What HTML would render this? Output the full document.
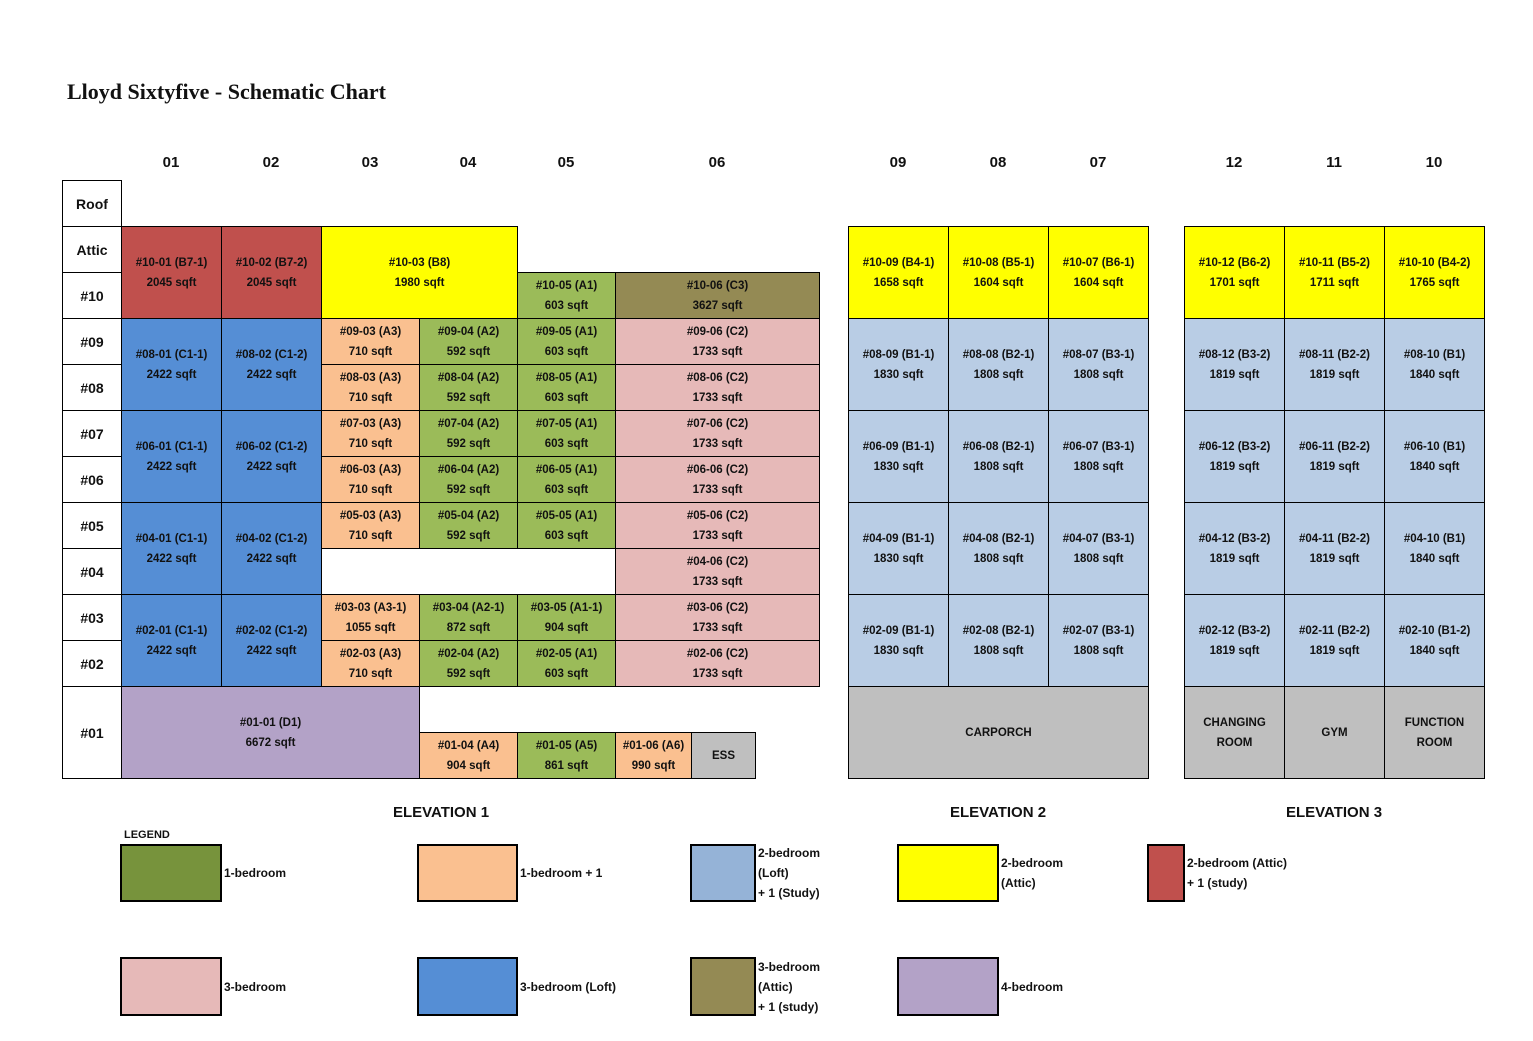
<!DOCTYPE html>
<html><head><meta charset="utf-8"><style>
body{margin:0;width:1533px;height:1041px;background:#fff;position:relative;overflow:hidden;font-family:"Liberation Sans",sans-serif;font-weight:bold;color:#111}
.c{position:absolute;box-sizing:border-box;border:1px solid #000;display:flex;align-items:center;justify-content:center;text-align:center;font-size:11.5px;line-height:20px;padding-top:1px}
.l{position:absolute;font-size:15px;transform:translateX(-50%)}
.t{position:absolute;font-size:12px;line-height:20px}
.lg{position:absolute;box-sizing:border-box;border:2px solid #000}
.R{background:#C0504D}.B{background:#558ED5}.Y{background:#FFFF00}.P{background:#FAC090}.G{background:#9BBB59}.K{background:#E6B9B8}.O{background:#948A54}.LB{background:#B9CDE5}.V{background:#B3A2C7}.S{background:#BFBFBF}
</style></head><body>
<div style="position:absolute;left:67px;top:79px;font-family:'Liberation Serif',serif;font-size:22px">Lloyd Sixtyfive - Schematic Chart</div>
<div class="l" style="left:171px;top:154px">01</div><div class="l" style="left:271px;top:154px">02</div><div class="l" style="left:370px;top:154px">03</div><div class="l" style="left:468px;top:154px">04</div><div class="l" style="left:566px;top:154px">05</div><div class="l" style="left:717px;top:154px">06</div>
<div class="l" style="left:898px;top:154px">09</div><div class="l" style="left:998px;top:154px">08</div><div class="l" style="left:1098px;top:154px">07</div>
<div class="l" style="left:1234px;top:154px">12</div><div class="l" style="left:1334px;top:154px">11</div><div class="l" style="left:1434px;top:154px">10</div>

<div class="c" style="left:62px;top:180px;width:60px;height:47px;font-size:14px">Roof</div>
<div class="c" style="left:62px;top:226px;width:60px;height:47px;font-size:14px">Attic</div>
<div class="c" style="left:62px;top:272px;width:60px;height:47px;font-size:14px">#10</div>
<div class="c" style="left:62px;top:318px;width:60px;height:47px;font-size:14px">#09</div>
<div class="c" style="left:62px;top:364px;width:60px;height:47px;font-size:14px">#08</div>
<div class="c" style="left:62px;top:410px;width:60px;height:47px;font-size:14px">#07</div>
<div class="c" style="left:62px;top:456px;width:60px;height:47px;font-size:14px">#06</div>
<div class="c" style="left:62px;top:502px;width:60px;height:47px;font-size:14px">#05</div>
<div class="c" style="left:62px;top:548px;width:60px;height:47px;font-size:14px">#04</div>
<div class="c" style="left:62px;top:594px;width:60px;height:47px;font-size:14px">#03</div>
<div class="c" style="left:62px;top:640px;width:60px;height:47px;font-size:14px">#02</div>
<div class="c" style="left:62px;top:686px;width:60px;height:93px;font-size:14px">#01</div>

<div class="c R" style="left:121px;top:226px;width:101px;height:93px">#10-01 (B7-1)<br>2045 sqft</div>
<div class="c R" style="left:221px;top:226px;width:101px;height:93px">#10-02 (B7-2)<br>2045 sqft</div>
<div class="c Y" style="left:321px;top:226px;width:197px;height:93px">#10-03 (B8)<br>1980 sqft</div>
<div class="c G" style="left:517px;top:272px;width:99px;height:47px">#10-05 (A1)<br>603 sqft</div>
<div class="c O" style="left:615px;top:272px;width:205px;height:47px">#10-06 (C3)<br>3627 sqft</div>

<div class="c B" style="left:121px;top:318px;width:101px;height:93px">#08-01 (C1-1)<br>2422 sqft</div>
<div class="c B" style="left:221px;top:318px;width:101px;height:93px">#08-02 (C1-2)<br>2422 sqft</div>
<div class="c B" style="left:121px;top:410px;width:101px;height:93px">#06-01 (C1-1)<br>2422 sqft</div>
<div class="c B" style="left:221px;top:410px;width:101px;height:93px">#06-02 (C1-2)<br>2422 sqft</div>
<div class="c B" style="left:121px;top:502px;width:101px;height:93px">#04-01 (C1-1)<br>2422 sqft</div>
<div class="c B" style="left:221px;top:502px;width:101px;height:93px">#04-02 (C1-2)<br>2422 sqft</div>
<div class="c B" style="left:121px;top:594px;width:101px;height:93px">#02-01 (C1-1)<br>2422 sqft</div>
<div class="c B" style="left:221px;top:594px;width:101px;height:93px">#02-02 (C1-2)<br>2422 sqft</div>

<div class="c P" style="left:321px;top:318px;width:99px;height:47px">#09-03 (A3)<br>710 sqft</div>
<div class="c G" style="left:419px;top:318px;width:99px;height:47px">#09-04 (A2)<br>592 sqft</div>
<div class="c G" style="left:517px;top:318px;width:99px;height:47px">#09-05 (A1)<br>603 sqft</div>
<div class="c K" style="left:615px;top:318px;width:205px;height:47px">#09-06 (C2)<br>1733 sqft</div>
<div class="c P" style="left:321px;top:364px;width:99px;height:47px">#08-03 (A3)<br>710 sqft</div>
<div class="c G" style="left:419px;top:364px;width:99px;height:47px">#08-04 (A2)<br>592 sqft</div>
<div class="c G" style="left:517px;top:364px;width:99px;height:47px">#08-05 (A1)<br>603 sqft</div>
<div class="c K" style="left:615px;top:364px;width:205px;height:47px">#08-06 (C2)<br>1733 sqft</div>
<div class="c P" style="left:321px;top:410px;width:99px;height:47px">#07-03 (A3)<br>710 sqft</div>
<div class="c G" style="left:419px;top:410px;width:99px;height:47px">#07-04 (A2)<br>592 sqft</div>
<div class="c G" style="left:517px;top:410px;width:99px;height:47px">#07-05 (A1)<br>603 sqft</div>
<div class="c K" style="left:615px;top:410px;width:205px;height:47px">#07-06 (C2)<br>1733 sqft</div>
<div class="c P" style="left:321px;top:456px;width:99px;height:47px">#06-03 (A3)<br>710 sqft</div>
<div class="c G" style="left:419px;top:456px;width:99px;height:47px">#06-04 (A2)<br>592 sqft</div>
<div class="c G" style="left:517px;top:456px;width:99px;height:47px">#06-05 (A1)<br>603 sqft</div>
<div class="c K" style="left:615px;top:456px;width:205px;height:47px">#06-06 (C2)<br>1733 sqft</div>
<div class="c P" style="left:321px;top:502px;width:99px;height:47px">#05-03 (A3)<br>710 sqft</div>
<div class="c G" style="left:419px;top:502px;width:99px;height:47px">#05-04 (A2)<br>592 sqft</div>
<div class="c G" style="left:517px;top:502px;width:99px;height:47px">#05-05 (A1)<br>603 sqft</div>
<div class="c K" style="left:615px;top:502px;width:205px;height:47px">#05-06 (C2)<br>1733 sqft</div>
<div class="c K" style="left:615px;top:548px;width:205px;height:47px">#04-06 (C2)<br>1733 sqft</div>
<div class="c P" style="left:321px;top:594px;width:99px;height:47px">#03-03 (A3-1)<br>1055 sqft</div>
<div class="c G" style="left:419px;top:594px;width:99px;height:47px">#03-04 (A2-1)<br>872 sqft</div>
<div class="c G" style="left:517px;top:594px;width:99px;height:47px">#03-05 (A1-1)<br>904 sqft</div>
<div class="c K" style="left:615px;top:594px;width:205px;height:47px">#03-06 (C2)<br>1733 sqft</div>
<div class="c P" style="left:321px;top:640px;width:99px;height:47px">#02-03 (A3)<br>710 sqft</div>
<div class="c G" style="left:419px;top:640px;width:99px;height:47px">#02-04 (A2)<br>592 sqft</div>
<div class="c G" style="left:517px;top:640px;width:99px;height:47px">#02-05 (A1)<br>603 sqft</div>
<div class="c K" style="left:615px;top:640px;width:205px;height:47px">#02-06 (C2)<br>1733 sqft</div>

<div class="c V" style="left:121px;top:686px;width:299px;height:93px">#01-01 (D1)<br>6672 sqft</div>
<div class="c P" style="left:419px;top:732px;width:99px;height:47px">#01-04 (A4)<br>904 sqft</div>
<div class="c G" style="left:517px;top:732px;width:99px;height:47px">#01-05 (A5)<br>861 sqft</div>
<div class="c P" style="left:615px;top:732px;width:77px;height:47px">#01-06 (A6)<br>990 sqft</div>
<div class="c S" style="left:691px;top:732px;width:65px;height:47px">ESS</div>

<div class="c Y" style="left:848px;top:226px;width:101px;height:93px">#10-09 (B4-1)<br>1658 sqft</div>
<div class="c Y" style="left:948px;top:226px;width:101px;height:93px">#10-08 (B5-1)<br>1604 sqft</div>
<div class="c Y" style="left:1048px;top:226px;width:101px;height:93px">#10-07 (B6-1)<br>1604 sqft</div>
<div class="c LB" style="left:848px;top:318px;width:101px;height:93px">#08-09 (B1-1)<br>1830 sqft</div>
<div class="c LB" style="left:948px;top:318px;width:101px;height:93px">#08-08 (B2-1)<br>1808 sqft</div>
<div class="c LB" style="left:1048px;top:318px;width:101px;height:93px">#08-07 (B3-1)<br>1808 sqft</div>
<div class="c LB" style="left:848px;top:410px;width:101px;height:93px">#06-09 (B1-1)<br>1830 sqft</div>
<div class="c LB" style="left:948px;top:410px;width:101px;height:93px">#06-08 (B2-1)<br>1808 sqft</div>
<div class="c LB" style="left:1048px;top:410px;width:101px;height:93px">#06-07 (B3-1)<br>1808 sqft</div>
<div class="c LB" style="left:848px;top:502px;width:101px;height:93px">#04-09 (B1-1)<br>1830 sqft</div>
<div class="c LB" style="left:948px;top:502px;width:101px;height:93px">#04-08 (B2-1)<br>1808 sqft</div>
<div class="c LB" style="left:1048px;top:502px;width:101px;height:93px">#04-07 (B3-1)<br>1808 sqft</div>
<div class="c LB" style="left:848px;top:594px;width:101px;height:93px">#02-09 (B1-1)<br>1830 sqft</div>
<div class="c LB" style="left:948px;top:594px;width:101px;height:93px">#02-08 (B2-1)<br>1808 sqft</div>
<div class="c LB" style="left:1048px;top:594px;width:101px;height:93px">#02-07 (B3-1)<br>1808 sqft</div>
<div class="c S" style="left:848px;top:686px;width:301px;height:93px">CARPORCH</div>

<div class="c Y" style="left:1184px;top:226px;width:101px;height:93px">#10-12 (B6-2)<br>1701 sqft</div>
<div class="c Y" style="left:1284px;top:226px;width:101px;height:93px">#10-11 (B5-2)<br>1711 sqft</div>
<div class="c Y" style="left:1384px;top:226px;width:101px;height:93px">#10-10 (B4-2)<br>1765 sqft</div>
<div class="c LB" style="left:1184px;top:318px;width:101px;height:93px">#08-12 (B3-2)<br>1819 sqft</div>
<div class="c LB" style="left:1284px;top:318px;width:101px;height:93px">#08-11 (B2-2)<br>1819 sqft</div>
<div class="c LB" style="left:1384px;top:318px;width:101px;height:93px">#08-10 (B1)<br>1840 sqft</div>
<div class="c LB" style="left:1184px;top:410px;width:101px;height:93px">#06-12 (B3-2)<br>1819 sqft</div>
<div class="c LB" style="left:1284px;top:410px;width:101px;height:93px">#06-11 (B2-2)<br>1819 sqft</div>
<div class="c LB" style="left:1384px;top:410px;width:101px;height:93px">#06-10 (B1)<br>1840 sqft</div>
<div class="c LB" style="left:1184px;top:502px;width:101px;height:93px">#04-12 (B3-2)<br>1819 sqft</div>
<div class="c LB" style="left:1284px;top:502px;width:101px;height:93px">#04-11 (B2-2)<br>1819 sqft</div>
<div class="c LB" style="left:1384px;top:502px;width:101px;height:93px">#04-10 (B1)<br>1840 sqft</div>
<div class="c LB" style="left:1184px;top:594px;width:101px;height:93px">#02-12 (B3-2)<br>1819 sqft</div>
<div class="c LB" style="left:1284px;top:594px;width:101px;height:93px">#02-11 (B2-2)<br>1819 sqft</div>
<div class="c LB" style="left:1384px;top:594px;width:101px;height:93px">#02-10 (B1-2)<br>1840 sqft</div>
<div class="c S" style="left:1184px;top:686px;width:101px;height:93px">CHANGING<br>ROOM</div>
<div class="c S" style="left:1284px;top:686px;width:101px;height:93px">GYM</div>
<div class="c S" style="left:1384px;top:686px;width:101px;height:93px">FUNCTION<br>ROOM</div>

<div class="l" style="left:441px;top:804px">ELEVATION 1</div>
<div class="l" style="left:998px;top:804px">ELEVATION 2</div>
<div class="l" style="left:1334px;top:804px">ELEVATION 3</div>

<div class="t" style="left:124px;top:825px;font-size:11px">LEGEND</div>
<div class="lg" style="left:120px;top:844px;width:102px;height:58px;background:#77933C"></div>
<div class="t" style="left:224px;top:863px">1-bedroom</div>
<div class="lg" style="left:417px;top:844px;width:101px;height:58px;background:#FAC090"></div>
<div class="t" style="left:520px;top:863px">1-bedroom + 1</div>
<div class="lg" style="left:690px;top:844px;width:66px;height:58px;background:#95B3D7"></div>
<div class="t" style="left:758px;top:843px">2-bedroom<br>(Loft)<br>+ 1 (Study)</div>
<div class="lg" style="left:897px;top:844px;width:102px;height:58px;background:#FFFF00"></div>
<div class="t" style="left:1001px;top:853px">2-bedroom<br>(Attic)</div>
<div class="lg" style="left:1147px;top:844px;width:38px;height:58px;background:#C0504D"></div>
<div class="t" style="left:1187px;top:853px">2-bedroom (Attic)<br>+ 1 (study)</div>

<div class="lg" style="left:120px;top:957px;width:102px;height:59px;background:#E6B9B8"></div>
<div class="t" style="left:224px;top:977px">3-bedroom</div>
<div class="lg" style="left:417px;top:957px;width:101px;height:59px;background:#558ED5"></div>
<div class="t" style="left:520px;top:977px">3-bedroom (Loft)</div>
<div class="lg" style="left:690px;top:957px;width:66px;height:59px;background:#948A54"></div>
<div class="t" style="left:758px;top:957px">3-bedroom<br>(Attic)<br>+ 1 (study)</div>
<div class="lg" style="left:897px;top:957px;width:102px;height:59px;background:#B3A2C7"></div>
<div class="t" style="left:1001px;top:977px">4-bedroom</div>
</body></html>
